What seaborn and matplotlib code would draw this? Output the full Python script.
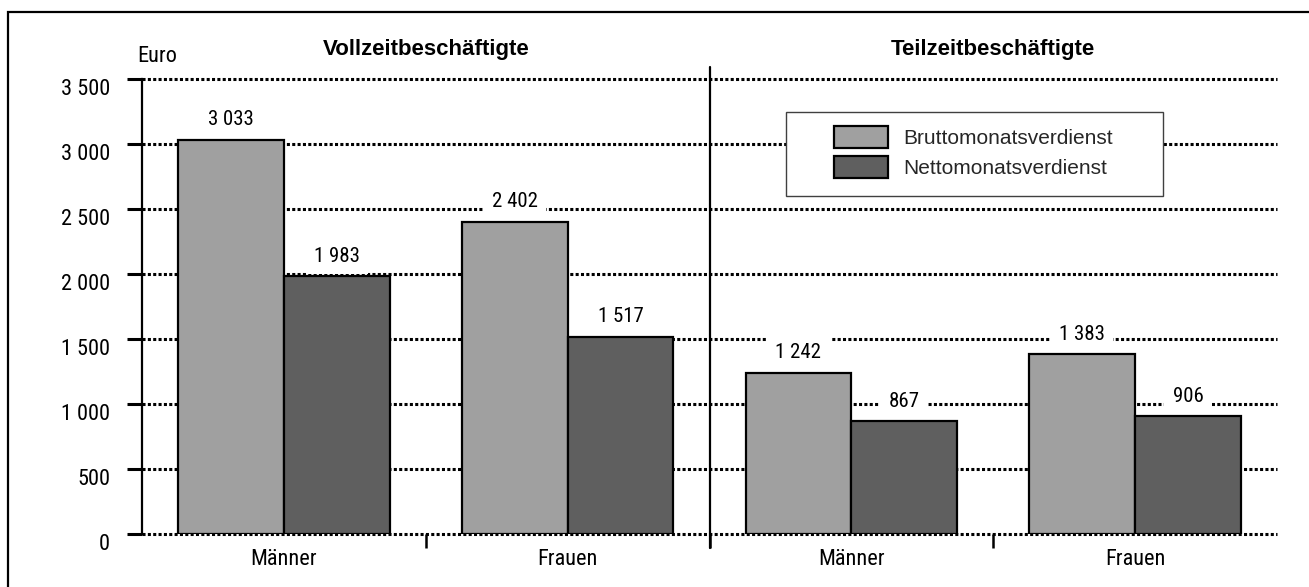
import matplotlib
matplotlib.use("Agg")
import matplotlib.pyplot as plt
import seaborn as sns
import pandas as pd
from matplotlib import font_manager
from matplotlib.font_manager import FontProperties
from matplotlib.transforms import ScaledTranslation, blended_transform_factory
from matplotlib.patches import Rectangle

# ---------------- data ----------------
groups = ["Vollzeitbeschäftigte", "Teilzeitbeschäftigte"]
categories = ["Männer", "Frauen", "Männer", "Frauen"]
series = ["Bruttomonatsverdienst", "Nettomonatsverdienst"]
brutto = [3033, 2402, 1242, 1383]
netto = [1983, 1517, 867, 906]
yticks = [0, 500, 1000, 1500, 2000, 2500, 3000, 3500]
unit_label = "Euro"

# ---------------- fonts ----------------
def pick(names, default="DejaVu Sans"):
    for n in names:
        try:
            font_manager.findfont(FontProperties(family=n), fallback_to_default=False)
            return n
        except Exception:
            pass
    return default

narrow = pick(["Liberation Sans Narrow", "Arial Narrow", "Roboto Condensed"], "Liberation Sans")
regular = pick(["Liberation Sans", "Arial"])

sns.set_theme(style="white")
plt.rcParams["font.family"] = [narrow, "DejaVu Sans"]

keys = [f"c{i}" for i in range(len(categories))]
df = pd.DataFrame({
    "cat": keys * 2,
    "series": [series[0]] * len(keys) + [series[1]] * len(keys),
    "value": brutto + netto,
})

W, H = 1309, 587
fig = plt.figure(figsize=(W / 100, H / 100), dpi=100)
ax = fig.add_axes([142 / W, 53 / H, (1277 - 142) / W, (534 - 79) / H])

light, dark = "#A0A0A0", "#5F5F5F"
sns.barplot(data=df, x="cat", y="value", hue="series", order=keys, hue_order=series,
            palette=[light, dark], width=0.746, gap=0, errorbar=None,
            edgecolor="black", linewidth=1.6, ax=ax, zorder=3)

handles, labels = ax.get_legend_handles_labels()
if ax.get_legend() is not None:
    ax.get_legend().remove()

ax.set_xlim(-0.5, len(keys) - 0.5)
ax.set_ylim(yticks[0], yticks[-1])
ax.set_xlabel("")
ax.set_ylabel("")

# spines
for s in ["top", "right", "bottom"]:
    ax.spines[s].set_visible(False)
ax.spines["left"].set_color("black")
ax.spines["left"].set_linewidth(1.6)

# y axis
ax.set_yticks(yticks)
ax.set_yticklabels([f"{v:,}".replace(",", " ") for v in yticks])
ax.tick_params(axis="y", direction="out", length=11, width=2.2, pad=12,
               labelsize=16, colors="black", left=True)
ax.yaxis.grid(True, color="black", linestyle=(0, (1, 0.75)), linewidth=2.2)
ax.xaxis.grid(False)
ax.set_axisbelow(True)
for gl in ax.get_ygridlines():
    gl.set_clip_on(False)
shift = ScaledTranslation(0, -8 / 100, fig.dpi_scale_trans)
for lbl in ax.get_yticklabels():
    lbl.set_transform(lbl.get_transform() + shift)

# x axis: separator ticks (major) and centred labels (minor)
ax.set_xticks([i + 0.5 for i in range(len(keys) - 1)])
ax.set_xticklabels([])
ax.set_xticks(range(len(keys)), minor=True)
ax.set_xticklabels(categories, minor=True)
ax.tick_params(axis="x", which="major", direction="out", length=10, width=1.8,
               bottom=True, colors="black")
ax.tick_params(axis="x", which="minor", length=0, pad=11, labelsize=16,
               bottom=True, labelcolor="black")

# divider between the two groups
ax.axvline(1.5, ymin=-0.031, ymax=1.026, color="black", lw=1.6, clip_on=False, zorder=5)

# value labels
for cont in ax.containers:
    for bar in cont:
        h = bar.get_height()
        ax.annotate(f"{int(round(h)):,}".replace(",", " "),
                    (bar.get_x() + bar.get_width() / 2, h),
                    xytext=(0, 14.5), textcoords="offset points",
                    ha="center", va="center", fontsize=15, color="black",
                    bbox=dict(boxstyle="square,pad=0.4", fc="white", ec="none"),
                    zorder=4)

# group titles
tr = blended_transform_factory(ax.transData, ax.transAxes)
for gi, g in enumerate(groups):
    ax.text(0.5 + 2 * gi, (534 - 50) / 455, g, transform=tr, ha="center", va="center",
            fontsize=16, fontweight="bold", family=[regular, "DejaVu Sans"], color="black")

ax.text((157 - 142) / 1135, (534 - 57) / 455, unit_label, transform=ax.transAxes,
        ha="center", va="center", fontsize=16, color="black")

# legend box and legend
fig.patches.append(Rectangle((786 / W, 1 - 196 / H), 377 / W, 84 / H,
                             transform=fig.transFigure, facecolor="white",
                             edgecolor="#404040", lw=1.0, zorder=2))
leg = fig.legend(handles, labels, loc="center", bbox_to_anchor=(973 / W, 1 - 152 / H),
                 frameon=False, prop={"family": [regular, "DejaVu Sans"], "size": 15},
                 handlelength=2.6, handleheight=1.25, handletextpad=0.72,
                 labelspacing=0.4)
leg.set_zorder(6)
for p in leg.get_patches():
    p.set_edgecolor("black")
    p.set_linewidth(1.6)

# outer frame (right and bottom edges fall outside the image)
fig.patches.append(Rectangle((8 / W, -0.1), 1.5, 1 - 12 / H + 0.1,
                             transform=fig.transFigure, fill=False,
                             edgecolor="black", lw=1.6, zorder=1))

fig.savefig("out.png", dpi=100)
